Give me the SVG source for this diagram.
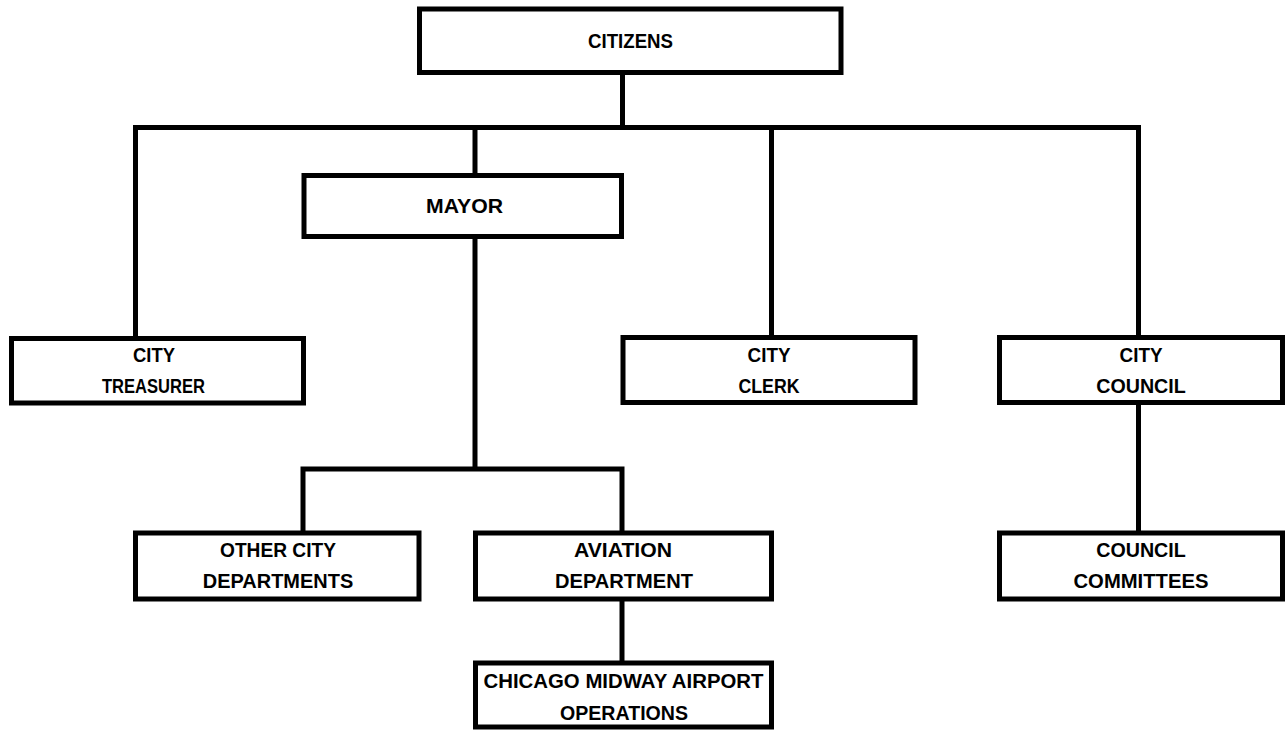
<svg xmlns="http://www.w3.org/2000/svg" width="1287" height="730" viewBox="0 0 1287 730">
<style>
.box{fill:#fff;stroke:#000;stroke-width:5}
.conn{fill:none;stroke:#000;stroke-width:5;stroke-linejoin:miter;stroke-linecap:butt}
.t{font-family:"Liberation Sans",Arial,sans-serif;font-weight:bold;font-size:19.5px;fill:#000;text-anchor:middle}
</style>
<rect width="1287" height="730" fill="#fff"/>
<g id="connectors">
<path class="conn" d="M622.5,72.5 V127.5"/>
<path class="conn" d="M135.5,338.5 V127.5 H1138.5 V337.5"/>
<path class="conn" d="M475,127.5 V175.5"/>
<path class="conn" d="M771.5,127.5 V337.5"/>
<path class="conn" d="M475,236.5 V469"/>
<path class="conn" d="M303,533 V469 H622 V533"/>
<path class="conn" d="M622,599 V663"/>
<path class="conn" d="M1138.5,402.5 V533"/>
</g>
<g id="citizens">
<rect class="box" x="419.5" y="9" width="421.5" height="63.5"/>
<text class="t" x="630.5" y="47.5" textLength="85" lengthAdjust="spacingAndGlyphs">CITIZENS</text>
</g>
<g id="mayor">
<rect class="box" x="304" y="175.5" width="317.5" height="61"/>
<text class="t" x="464.5" y="213" textLength="77" lengthAdjust="spacingAndGlyphs">MAYOR</text>
</g>
<g id="treasurer">
<rect class="box" x="11.5" y="338.5" width="292" height="64.5"/>
<text class="t" x="154" y="362" textLength="42" lengthAdjust="spacingAndGlyphs">CITY</text>
<text class="t" x="153.5" y="392.5" textLength="103" lengthAdjust="spacingAndGlyphs">TREASURER</text>
</g>
<g id="clerk">
<rect class="box" x="623" y="337.5" width="292" height="65"/>
<text class="t" x="769" y="362" textLength="43" lengthAdjust="spacingAndGlyphs">CITY</text>
<text class="t" x="769" y="393" textLength="61" lengthAdjust="spacingAndGlyphs">CLERK</text>
</g>
<g id="council">
<rect class="box" x="999.5" y="337.5" width="283" height="65"/>
<text class="t" x="1141" y="362" textLength="43" lengthAdjust="spacingAndGlyphs">CITY</text>
<text class="t" x="1141" y="393" textLength="89.5" lengthAdjust="spacingAndGlyphs">COUNCIL</text>
</g>
<g id="other-departments">
<rect class="box" x="135.5" y="533" width="283.5" height="66"/>
<text class="t" x="278" y="557" textLength="116" lengthAdjust="spacingAndGlyphs">OTHER CITY</text>
<text class="t" x="278" y="588" textLength="150.5" lengthAdjust="spacingAndGlyphs">DEPARTMENTS</text>
</g>
<g id="aviation">
<rect class="box" x="475.5" y="533" width="296" height="66"/>
<text class="t" x="623" y="557" textLength="98" lengthAdjust="spacingAndGlyphs">AVIATION</text>
<text class="t" x="624" y="588" textLength="138" lengthAdjust="spacingAndGlyphs">DEPARTMENT</text>
</g>
<g id="committees">
<rect class="box" x="999.5" y="533" width="283" height="66"/>
<text class="t" x="1141" y="557" textLength="89.5" lengthAdjust="spacingAndGlyphs">COUNCIL</text>
<text class="t" x="1141" y="588" textLength="135" lengthAdjust="spacingAndGlyphs">COMMITTEES</text>
</g>
<g id="midway">
<rect class="box" x="475.5" y="663" width="296" height="64"/>
<text class="t" x="623.5" y="687.5" textLength="280" lengthAdjust="spacingAndGlyphs">CHICAGO MIDWAY AIRPORT</text>
<text class="t" x="624" y="719.5" textLength="128" lengthAdjust="spacingAndGlyphs">OPERATIONS</text>
</g>
</svg>
